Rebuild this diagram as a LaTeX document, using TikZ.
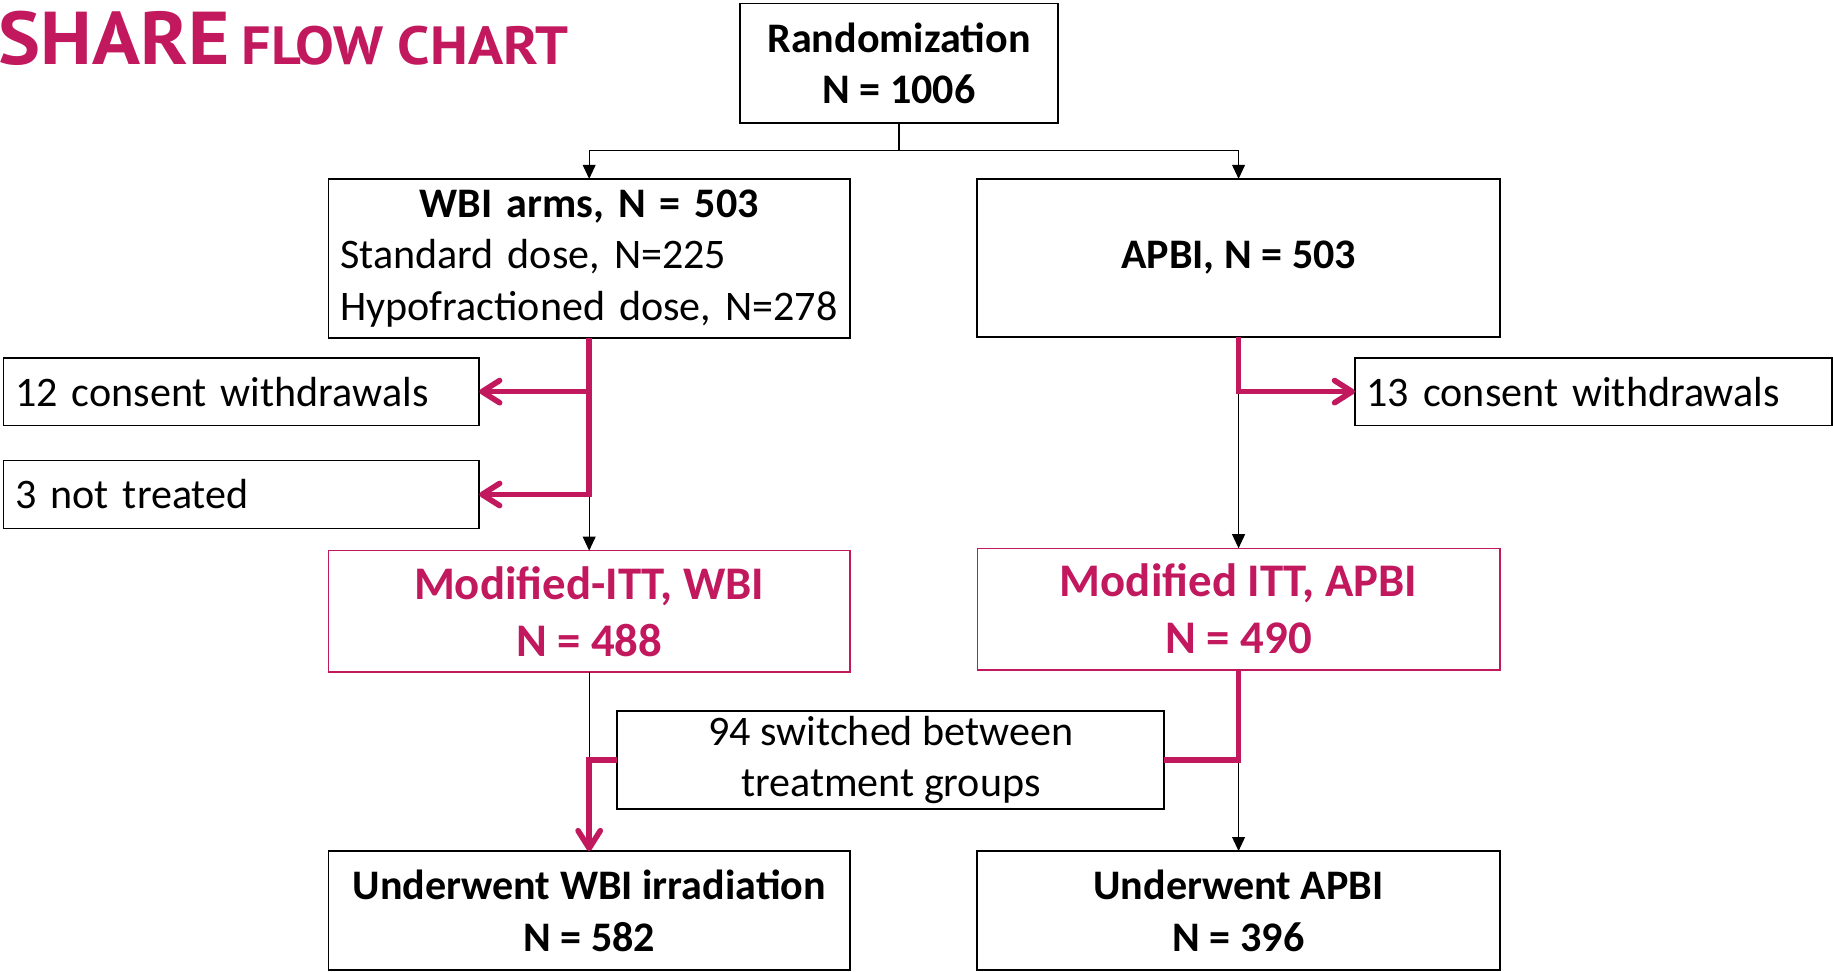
\documentclass[tikz,border=0pt]{standalone}
\usepackage{fontspec}
\setmainfont{Carlito}
\newfontfamily\titlefont{PT Sans}
\usetikzlibrary{arrows.meta}
\definecolor{mag}{RGB}{193,24,94}
\begin{document}
\begin{tikzpicture}[x=1pt,y=-1pt,
  every node/.style={font=\fontsize{36}{44}\selectfont\frenchspacing, inner sep=0pt, outer sep=0pt},
  bbox/.style={draw=black, line width=1.5pt, minimum width=#1, align=center},
  lbox/.style={draw=black, line width=1.5pt, text width=#1, inner xsep=10pt, align=left, minimum height=58pt},
  mbox/.style={draw=mag, line width=1.3pt, minimum width=446pt, minimum height=104pt, align=center,
     text=mag, font=\fontsize{40}{49}\selectfont\bfseries},
  thinline/.style={draw=black, line width=1.1pt},
  thinarrow/.style={thinline, -{Triangle[length=12pt,width=11pt]}},
  magline/.style={draw=mag, line width=4.8pt},
  magarrow/.style={magline, -{Straight Barb[length=15pt,width=19pt,line width=4.8pt,line cap=round,line join=round]}}
]
\useasboundingbox (0,0) rectangle (1568,831);

% title
\node[anchor=base west, text=mag, font=\titlefont\bfseries\fontsize{64}{70}\selectfont, xscale=1.06] (t1) at (-1,55) {SHARE};
\node[anchor=base west, text=mag, font=\titlefont\bfseries\fontsize{46}{50}\selectfont, xscale=1.08] (t2) at (207,55) {FLOW CHART};

% boxes
\node[bbox=272pt, minimum height=102pt] (rand) at (769,54) {\textbf{Randomization}\\\textbf{N = 1006}};
\node[draw=black, line width=1.5pt, text width=426pt, inner xsep=10pt, minimum height=136pt, align=left] (wbi) at (504,221)
  {\makebox[426pt][c]{\textbf{WBI arms, N = 503}}\\Standard dose, N=225\\Hypofractioned dose, N=278};
\node[bbox=447pt, minimum height=135pt] (apbi) at (1059.5,220.5) {\textbf{APBI, N = 503}};
\node[lbox=387pt] (c12) at (206.5,335) {12 consent withdrawals};
\node[lbox=387pt] (nt3) at (206.5,423) {3 not treated};
\node[lbox=388pt] (c13) at (1363,335) {13 consent withdrawals};
\node[mbox] (mwbi) at (504,523) {Modified-ITT, WBI\\N = 488};
\node[mbox, minimum width=447pt] (mapbi) at (1059.5,521) {Modified ITT, APBI\\N = 490};
\node[bbox=468pt, minimum height=84pt] (sw) at (762,650) {94 switched between\\treatment groups};
\node[bbox=446pt, minimum height=102pt] (uwbi) at (504,779) {\textbf{Underwent WBI irradiation}\\\textbf{N = 582}};
\node[bbox=447pt, minimum height=102pt] (uapbi) at (1059.5,779) {\textbf{Underwent APBI}\\\textbf{N = 396}};

% top split
\coordinate (j0) at (769,129);
\draw[thinline] (rand.south) -- (j0);
\draw[thinarrow] (j0) -| (wbi.north);
\draw[thinarrow] (j0) -| (apbi.north);

% WBI exclusions
\coordinate (b1) at (wbi.south |- nt3.east);
\draw[thinarrow] (b1) -- (mwbi.north);
\draw[magarrow] (wbi.south) |- (nt3.east);
\draw[magarrow] (wbi.south |- c12.east) -- (c12.east);

% APBI exclusions
\coordinate (b2) at (apbi.south |- c13.west);
\draw[thinarrow] (b2) -- (mapbi.north);
\draw[magarrow] (apbi.south) |- (c13.west);

% switch
\coordinate (b3) at (mwbi.south |- sw.west);
\coordinate (b4) at (mapbi.south |- sw.east);
\draw[thinline] (mwbi.south) -- (b3);
\draw[thinarrow] (b4) -- (uapbi.north);
\draw[magarrow] (sw.west) -| (uwbi.north);
\draw[magline] (mapbi.south) |- (sw.east);
\end{tikzpicture}
\end{document}
